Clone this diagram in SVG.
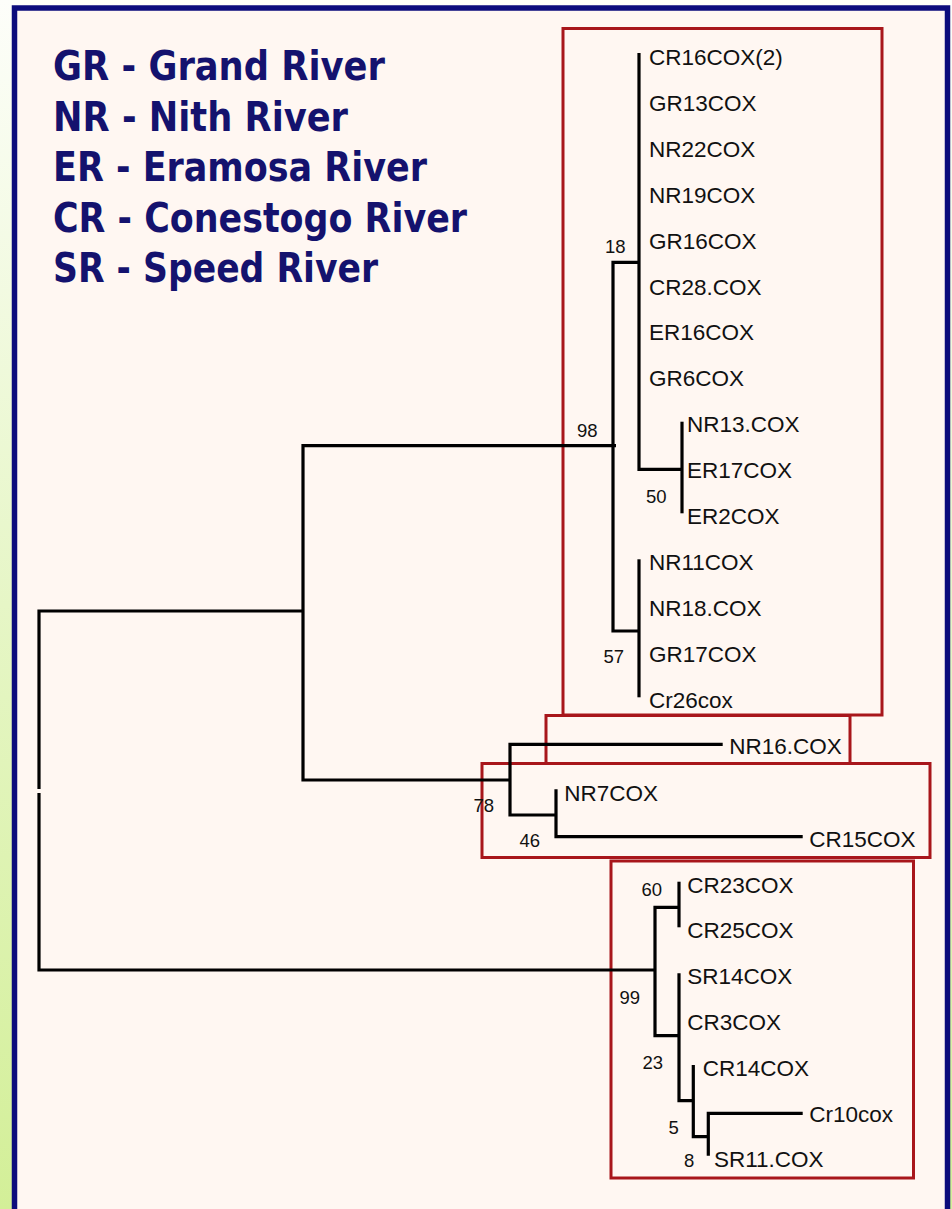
<svg xmlns="http://www.w3.org/2000/svg" width="952" height="1209" viewBox="0 0 952 1209">
<defs>
<linearGradient id="bg" x1="0" y1="0" x2="0" y2="1">
<stop offset="0" stop-color="#fdfefa"/>
<stop offset="0.5" stop-color="#e6f6c6"/>
<stop offset="1" stop-color="#d3ef98"/>
</linearGradient>
<style>
.frame{fill:#fff7f2;stroke:#0c0c7c;stroke-width:5.5}
.legend{font-family:"DejaVu Sans Condensed","DejaVu Sans","Liberation Sans",sans-serif;font-weight:bold;font-size:40px;fill:#14126e}
.box{fill:none;stroke:#a8161b;stroke-width:3}
.leaf{font-family:"Liberation Sans",Arial,sans-serif;font-size:22.5px;fill:#111}
.bs{font-family:"Liberation Sans",Arial,sans-serif;font-size:18.5px;fill:#111}
.tree{fill:none;stroke:#000;stroke-width:3.2;stroke-linejoin:miter;stroke-linecap:butt}
</style>
</defs>
<rect x="0" y="0" width="952" height="1209" fill="url(#bg)"/>
<rect class="frame" x="14.5" y="8" width="933" height="1300"/>

<g id="legend">
<text class="legend" x="53" y="80" textLength="332" lengthAdjust="spacingAndGlyphs">GR - Grand River</text>
<text class="legend" x="53" y="131" textLength="295" lengthAdjust="spacingAndGlyphs">NR - Nith River</text>
<text class="legend" x="53" y="181" textLength="374" lengthAdjust="spacingAndGlyphs">ER - Eramosa River</text>
<text class="legend" x="53" y="232" textLength="414" lengthAdjust="spacingAndGlyphs">CR - Conestogo River</text>
<text class="legend" x="53" y="282" textLength="325" lengthAdjust="spacingAndGlyphs">SR - Speed River</text>
</g>

<g id="cluster-boxes">
<rect id="box-top" class="box" x="563" y="28.5" width="319" height="686.5"/>
<rect id="box-nr16" class="box" x="546" y="715.5" width="304" height="48"/>
<rect id="box-nr7" class="box" x="482" y="763.5" width="448" height="94"/>
<rect id="box-bottom" class="box" x="611" y="861" width="302.5" height="317"/>
</g>

<g id="connectors">
<path class="tree" d="M303 611 H39 V789"/>
<path class="tree" d="M39 793 V970 H655"/>
<path class="tree" d="M616 445.7 H303 V780 H510"/>
<path class="tree" d="M639 262.3 H613 V631 H639"/>
<path class="tree" d="M639 53 V469.3 H682"/>
<path class="tree" d="M682 421.7 V513.3"/>
<path class="tree" d="M639 559.3 V697.3"/>
<path class="tree" d="M722.7 744.3 H510 V815 H556"/>
<path class="tree" d="M556 789.3 V836.7 H802.7"/>
<path class="tree" d="M679 907.3 H655 V1035.7 H679"/>
<path class="tree" d="M679 881.7 V927.3"/>
<path class="tree" d="M679 973.3 V1100.7 H693.3"/>
<path class="tree" d="M693.3 1065 V1136.7 H708.3"/>
<path class="tree" d="M708.3 1155.7 V1113.3 H802.7"/>
</g>

<g id="support-values">
<text class="bs" x="605" y="253">18</text>
<text class="bs" x="577" y="437">98</text>
<text class="bs" x="646" y="502.5">50</text>
<text class="bs" x="603.5" y="663">57</text>
<text class="bs" x="473.5" y="812">78</text>
<text class="bs" x="519.5" y="847">46</text>
<text class="bs" x="641.5" y="896">60</text>
<text class="bs" x="619.5" y="1004">99</text>
<text class="bs" x="642.5" y="1068.5">23</text>
<text class="bs" x="668.5" y="1133.5">5</text>
<text class="bs" x="684" y="1167">8</text>
</g>

<g id="leaves">
<g id="leaf-CR16COX2"><text class="leaf" x="649" y="65">CR16COX(2)</text></g>
<g id="leaf-GR13COX"><text class="leaf" x="649" y="110.9">GR13COX</text></g>
<g id="leaf-NR22COX"><text class="leaf" x="649" y="156.8">NR22COX</text></g>
<g id="leaf-NR19COX"><text class="leaf" x="649" y="202.7">NR19COX</text></g>
<g id="leaf-GR16COX"><text class="leaf" x="649" y="248.6">GR16COX</text></g>
<g id="leaf-CR28COX"><text class="leaf" x="649" y="294.5">CR28.COX</text></g>
<g id="leaf-ER16COX"><text class="leaf" x="649" y="340.4">ER16COX</text></g>
<g id="leaf-GR6COX"><text class="leaf" x="649" y="386.3">GR6COX</text></g>
<g id="leaf-NR13COX"><text class="leaf" x="687" y="432.4">NR13.COX</text></g>
<g id="leaf-ER17COX"><text class="leaf" x="687" y="478.3">ER17COX</text></g>
<g id="leaf-ER2COX"><text class="leaf" x="687" y="524.2">ER2COX</text></g>
<g id="leaf-NR11COX"><text class="leaf" x="649" y="570.3">NR11COX</text></g>
<g id="leaf-NR18COX"><text class="leaf" x="649" y="616">NR18.COX</text></g>
<g id="leaf-GR17COX"><text class="leaf" x="649" y="662">GR17COX</text></g>
<g id="leaf-Cr26cox"><text class="leaf" x="649" y="707.5">Cr26cox</text></g>
<g id="leaf-NR16COX"><text class="leaf" x="729.3" y="754.3">NR16.COX</text></g>
<g id="leaf-NR7COX"><text class="leaf" x="564.3" y="800.7">NR7COX</text></g>
<g id="leaf-CR15COX"><text class="leaf" x="809.3" y="846.7">CR15COX</text></g>
<g id="leaf-CR23COX"><text class="leaf" x="687.3" y="892.7">CR23COX</text></g>
<g id="leaf-CR25COX"><text class="leaf" x="687.3" y="938.3">CR25COX</text></g>
<g id="leaf-SR14COX"><text class="leaf" x="687.3" y="984.3">SR14COX</text></g>
<g id="leaf-CR3COX"><text class="leaf" x="687.3" y="1030">CR3COX</text></g>
<g id="leaf-CR14COX"><text class="leaf" x="702.7" y="1076">CR14COX</text></g>
<g id="leaf-Cr10cox"><text class="leaf" x="809.3" y="1121.7">Cr10cox</text></g>
<g id="leaf-SR11COX"><text class="leaf" x="714" y="1167.3">SR11.COX</text></g>
</g>
</svg>
